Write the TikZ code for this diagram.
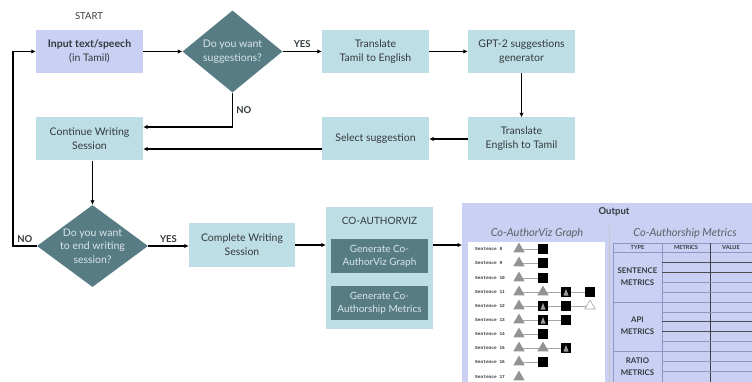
\documentclass[tikz,border=0pt]{standalone}
\usepackage{fontspec}
\setmainfont{Lato}
\setmonofont{Liberation Mono}
\usetikzlibrary{shapes.geometric,arrows.meta}
\definecolor{lav}{HTML}{C9D0F4}
\definecolor{lblue}{HTML}{BEDEE5}
\definecolor{dteal}{HTML}{577C84}
\definecolor{txt}{HTML}{33393C}
\definecolor{ltxt}{HTML}{D9E6E9}
\definecolor{tline}{HTML}{8E97C0}
\tikzset{
  box/.style={rectangle,fill=lblue,minimum width=107pt,minimum height=43pt,inner sep=0pt,align=center,text=txt,font=\fontsize{10.5}{14}\selectfont},
  dia/.style={diamond,fill=dteal,inner sep=0pt},
  diatext/.style={text=ltxt,align=center,font=\fontsize{10.5}{13.5}\selectfont},
  inbox/.style={rectangle,fill=dteal,minimum width=97pt,minimum height=34pt,inner sep=0pt,align=center,text=ltxt,font=\fontsize{10}{13}\selectfont},
  arr/.style={-{Latex[length=4.5pt,width=4.5pt]},line width=1.1pt},
  yn/.style={font=\bfseries\fontsize{9.5}{11}\selectfont,text=txt},
  gtri/.style={regular polygon,regular polygon sides=3,fill=gray!85,minimum size=13pt,inner sep=0pt},
  wtri/.style={regular polygon,regular polygon sides=3,draw=gray!70,line width=0.6pt,fill=white,minimum size=12pt,inner sep=0pt},
  bsq/.style={rectangle,fill=black,minimum size=10pt,inner sep=0pt},
  bsqt/.style={bsq,path picture={\fill[gray!75] ([shift={(-2.5pt,-3.5pt)}]path picture bounding box.center) -- ([shift={(2.5pt,-3.5pt)}]path picture bounding box.center) -- ([shift={(0pt,3pt)}]path picture bounding box.center) -- cycle;}},
  blank/.style={inner sep=0pt},
  gline/.style={gray!70,line width=0.6pt},
  sname/.style={font=\ttfamily\bfseries\fontsize{4.5}{5}\selectfont,text=txt,anchor=west,inner sep=0pt},
  thead/.style={font=\bfseries\fontsize{5.6}{6}\selectfont,text=txt},
  ttype/.style={font=\bfseries\fontsize{7.8}{12}\selectfont,text=txt,align=center}
}
\begin{document}
\begin{tikzpicture}[x=1pt,y=-1pt]
\useasboundingbox (0,0) rectangle (752,382);
% top row
\node[text=txt,font=\fontsize{9.5}{11}\selectfont] (start) at (89,16) {START};
\node[box,fill=lav] (input) at (89.5,51.5) {\textbf{Input text/speech}\\(in Tamil)};
\node[dia,minimum width=100pt,minimum height=82pt,label={[diatext]center:Do you want\\suggestions?}] (dsug) at (232.5,51.5) {};
\node[box] (tte) at (375.5,51.5) {Translate\\Tamil to English};
\node[box] (gpt) at (521.5,51.5) {GPT-2 suggestions\\generator};
\node[box] (ett) at (521.5,139) {Translate\\English to Tamil};
\node[box] (sel) at (375.5,139) {Select suggestion};
\node[box] (cont) at (89.5,139) {Continue Writing\\Session};
% bottom row
\node[dia,minimum width=111pt,minimum height=82pt,label={[diatext]center:Do you want\\to end writing\\session?}] (dend) at (92.5,246) {};
\node[box,minimum width=106pt,minimum height=44pt] (comp) at (242,245) {Complete Writing\\Session};
\node[rectangle,fill=lblue,minimum width=107pt,minimum height=122pt] (cav) at (379.5,268) {};
\node[text=txt,font=\fontsize{10}{12}\selectfont] (cavt) at (379.5,221) {CO-AUTHORVIZ};
\node[inbox] (gg) at (379.5,256) {Generate Co-\\AuthorViz Graph};
\node[inbox] (gm) at (379.5,303) {Generate Co-\\Authorship Metrics};
% connectors
\draw[arr] (input) -- (dsug);
\draw[arr] (dsug) -- node[yn,above] {YES} (tte);
\draw[arr] (tte) -- (gpt);
\draw[arr] (gpt) -- (ett);
\draw[arr] (ett) -- (sel);
\draw[arr] (dsug.south) |- node[yn,pos=0.25,right] {NO} ([yshift=12pt]cont.east);
\draw[arr] ([yshift=-10pt]sel.west) -- ([yshift=-10pt]cont.east);
\draw[arr] (cont.south -| dend.north) -- (dend.north);
\coordinate (back) at (13,246);
\draw[arr] (dend.west) -- node[yn,above] {NO} (back) |- (input.west);
\draw[arr] (dend.east) -- node[yn,above] {YES} (dend.east -| comp.west);
\draw[arr] (comp.east) -- (comp.east -| cav.west);
% output panel
\begin{scope}
\clip (0,0) rectangle (752,382);
\node[fill=lav,minimum width=310pt,minimum height=190pt,inner sep=0pt,anchor=north west] (out) at (462,203) {};
\node[font=\bfseries\fontsize{9.5}{11}\selectfont,text=txt] (outt) at (614,212) {Output};
\node[font=\itshape\fontsize{11}{13}\selectfont,text=txt!80] (gt) at (537,233) {Co-AuthorViz Graph};
\node[font=\itshape\fontsize{11}{13}\selectfont,text=txt!80] (mt) at (685,233) {Co-Authorship Metrics};
\draw[gray!45,line width=1pt] (609,226) -- (609,382);
\node[fill=white,minimum width=137pt,minimum height=150pt,inner sep=0pt,anchor=north west] (gbox) at (468,242) {};
\foreach \n/\yy/\b/\c/\d/\k in {8/249/bsq/blank/blank/2, 9/263/bsq/blank/blank/2, 10/278/bsq/blank/blank/2,
    11/292/gtri/bsqt/bsq/4, 12/306/bsqt/bsq/wtri/4, 13/320/bsqt/bsq/blank/3, 14/334/bsq/blank/blank/2,
    15/348/gtri/bsqt/blank/3, 16/362/bsq/blank/blank/2, 17/377/blank/blank/blank/1}{
  \node[sname] (s\n) at (475,\yy) {Sentence \n};
  \node[gtri] (a\n) at (519,\yy) {};
  \node[\b] (b\n) at (543,\yy) {};
  \node[\c] (c\n) at (566,\yy) {};
  \node[\d] (d\n) at (590,\yy) {};
  \ifnum\k>1 \draw[gline] (a\n) -- (b\n); \fi
  \ifnum\k>2 \draw[gline] (b\n) -- (c\n); \fi
  \ifnum\k>3 \draw[gline] (c\n) -- (d\n); \fi
}
% metrics table
\draw[tline,line width=0.6pt] (613,243) -- (760,243) (613,252) -- (760,252) (613,302) -- (760,302) (613,351) -- (760,351);
\draw[tline,line width=0.6pt] (613,243) -- (613,382) (662,243) -- (662,382);
\draw[black!75,line width=0.6pt] (710,243) -- (710,382);
\foreach \yy in {282,292,312,341,361,371} \draw[tline,line width=0.6pt] (662,\yy) -- (760,\yy);
\foreach \yy in {262,272,321,331} \draw[black!70,line width=0.6pt] (662,\yy) -- (760,\yy);
\node[thead] (ht) at (637.5,247.5) {TYPE};
\node[thead] (hm) at (686,247.5) {METRICS};
\node[thead] (hv) at (731,247.5) {VALUE};
\node[ttype] (sen) at (637.5,277) {SENTENCE\\METRICS};
\node[ttype] (api) at (637.5,326) {API\\METRICS};
\node[ttype] (rat) at (637.5,366.5) {RATIO\\METRICS};
\end{scope}
\draw[arr] (comp.east -| cav.east) -- (comp.east -| out.west);
\end{tikzpicture}
\end{document}
